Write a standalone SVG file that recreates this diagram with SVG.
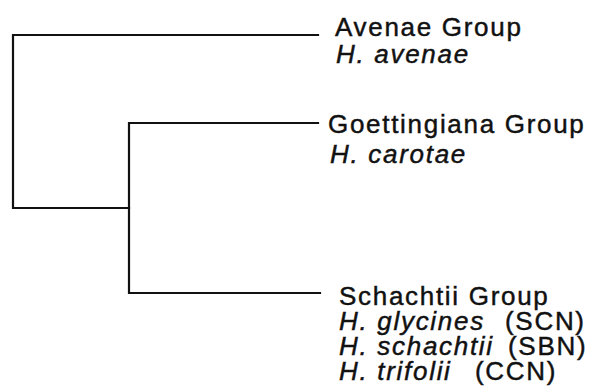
<svg xmlns="http://www.w3.org/2000/svg" width="595" height="392" viewBox="0 0 595 392">
<style>
.t{font-family:"Liberation Sans",Arial,Helvetica,sans-serif;font-size:26px;letter-spacing:1.7px;fill:#111;stroke:#111;stroke-width:0.45px}
.i{font-style:italic}
.e{fill:none;stroke:#111;stroke-width:2.2;stroke-linecap:square}
</style>
<rect width="595" height="392" fill="#fff"/>
<g id="connectors">
<path class="e" d="M318,35 H13 V208 H129"/>
<path class="e" d="M318,123 H129 V293 H320"/>
</g>
<g id="avenae">
<text class="t" x="335" y="36">Avenae Group</text>
<text class="t i" x="336" y="63">H. avenae</text>
</g>
<g id="goettingiana">
<text class="t" x="328" y="133">Goettingiana Group</text>
<text class="t i" x="330" y="163">H. carotae</text>
</g>
<g id="schachtii">
<text class="t" x="339" y="305">Schachtii Group</text>
<text class="t" x="339" y="330"><tspan class="i">H. glycines</tspan><tspan x="505">(SCN)</tspan></text>
<text class="t" x="339" y="355"><tspan class="i">H. schachtii</tspan><tspan x="508">(SBN)</tspan></text>
<text class="t" x="339" y="380"><tspan class="i">H. trifolii</tspan><tspan x="475">(CCN)</tspan></text>
</g>
</svg>
